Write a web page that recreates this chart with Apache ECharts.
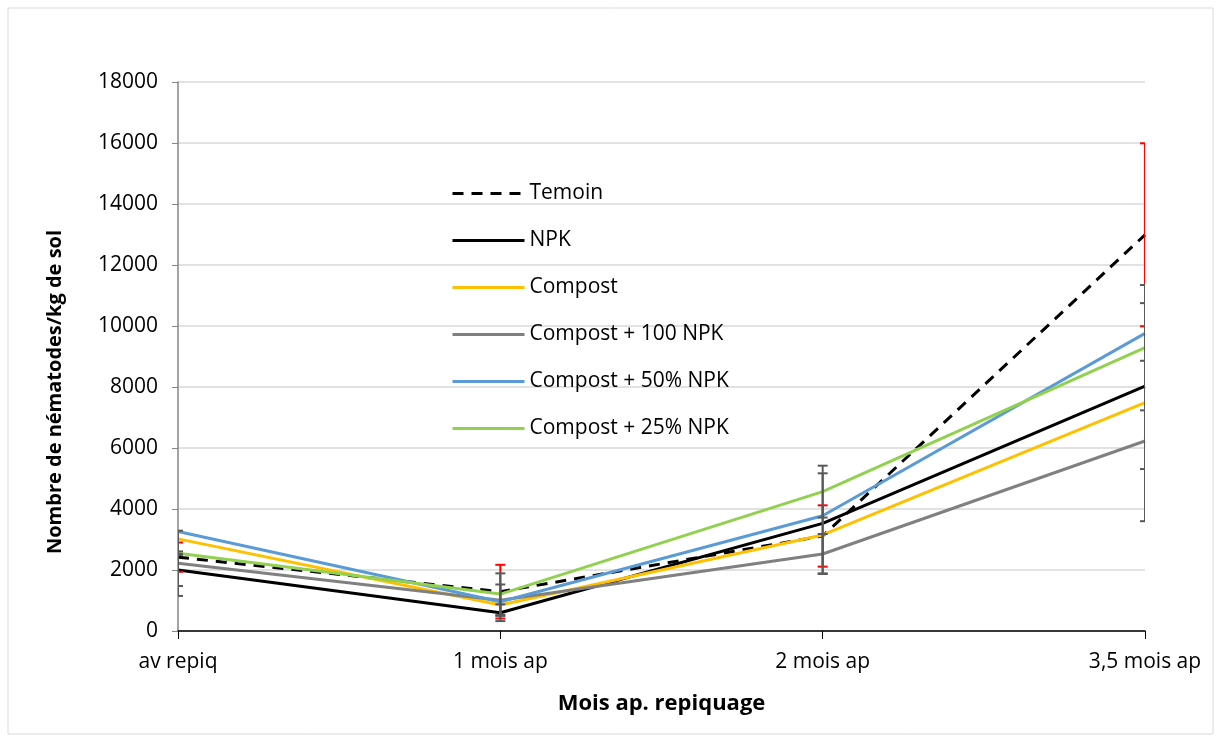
<!DOCTYPE html>
<html>
<head>
<meta charset="utf-8">
<script src="https://cdn.jsdelivr.net/npm/echarts@6/dist/echarts.min.js"></script>
<style>
  html, body { margin: 0; padding: 0; background: #fff; }
  #chart { width: 1221px; height: 742px; }
</style>
</head>
<body>
<div id="chart"></div>
<script>
// catégories et valeurs
const mois = ['av repiq', '1 mois ap', '2 mois ap', '3,5 mois ap'];
const yTicks = [0, 2000, 4000, 6000, 8000, 10000, 12000, 14000, 16000, 18000];

const temoin = [2420, 1290, 3115, 12990];
const npk = [2000, 600, 3530, 8030];
const compost = [3020, 850, 3150, 7490];
const compost100 = [2220, 1010, 2525, 6230];
const compost50 = [3260, 960, 3780, 9760];
const compost25 = [2550, 1210, 4570, 9290];

// barres d'erreur (écart +/-)
const temoinErr = [480, 880, 1005, 3000];
const npkErr = [525, 275, 1640, 2720];
const compost100Err = [1070, 515, 655, 2630];
const compost25Err = [60, 680, 850, 2055];

const font = 'Open Sans';

function lineSerie(name, data, color, dashed) {
  return {
    name: name,
    type: 'line',
    data: data,
    symbol: 'none',
    color: color,
    lineStyle: { color: color, width: 3, type: dashed ? [11, 8] : 'solid' },
    z: 3
  };
}

function errData(vals, errs) {
  return vals.map((v, i) => [i, v - errs[i], v + errs[i]]);
}

function renderErr(params, api) {
  const x = api.value(0);
  const lo = api.coord([x, api.value(1)]);
  const hi = api.coord([x, api.value(2)]);
  const c = api.visual('color');
  const w = 5;
  const st = { stroke: c, lineWidth: 2 };
  return {
    type: 'group',
    children: [
      { type: 'line', shape: { x1: hi[0], y1: hi[1], x2: lo[0], y2: lo[1] }, style: st },
      { type: 'line', shape: { x1: hi[0] - w, y1: hi[1], x2: hi[0] + w, y2: hi[1] }, style: st },
      { type: 'line', shape: { x1: lo[0] - w, y1: lo[1], x2: lo[0] + w, y2: lo[1] }, style: st }
    ]
  };
}

function errSerie(name, vals, errs, color) {
  return {
    name: name,
    type: 'custom',
    data: errData(vals, errs),
    renderItem: renderErr,
    color: color,
    clip: true,
    encode: { x: 0, y: [1, 2] },
    silent: true,
    z: 5
  };
}

const chart = echarts.init(document.getElementById('chart'));
chart.setOption({
  animation: false,
  backgroundColor: '#fff',
  textStyle: { fontFamily: font },
  graphic: [{
    type: 'rect',
    shape: { x: 8, y: 8, width: 1205, height: 726 },
    style: { fill: null, stroke: '#d9d9d9', lineWidth: 1 },
    silent: true
  }, {
    // titre de l'axe Y, décalé vers le bas comme dans Excel
    type: 'text',
    x: 55,
    y: 392,
    rotation: Math.PI / 2,
    style: {
      text: 'Nombre de nématodes/kg de sol',
      fontFamily: font,
      fontSize: 20,
      fontWeight: 'bold',
      fill: '#000',
      align: 'center',
      verticalAlign: 'middle'
    },
    silent: true
  }],
  grid: { left: 178, right: 76, top: 82, bottom: 111 },
  legend: {
    data: ['Temoin', 'NPK', 'Compost', 'Compost + 100 NPK', 'Compost + 50% NPK', 'Compost + 25% NPK'],
    orient: 'vertical',
    left: 446,
    top: 178,
    itemWidth: 72,
    itemHeight: 14,
    itemGap: 26,
    itemStyle: { opacity: 0 },
    lineStyle: { width: 3 },
    textStyle: { fontFamily: font, fontSize: 21, color: '#000', padding: [0, 0, 0, 0] }
  },
  xAxis: {
    type: 'category',
    data: mois,
    boundaryGap: false,
    name: 'Mois ap. repiquage',
    nameLocation: 'middle',
    nameGap: 62,
    nameTextStyle: { fontFamily: font, fontSize: 22, fontWeight: 'bold', color: '#000' },
    axisLine: { lineStyle: { color: '#000', width: 1.5 } },
    axisTick: { show: true, length: 8, lineStyle: { color: '#000' } },
    axisLabel: { fontSize: 21, color: '#000', margin: 21 },
    splitLine: { show: false }
  },
  yAxis: {
    type: 'value',
    min: yTicks[0],
    max: yTicks[yTicks.length - 1],
    interval: yTicks[1] - yTicks[0],
    axisLine: { show: true, lineStyle: { color: '#868686', width: 1.5 } },
    axisTick: { show: true, length: 6, lineStyle: { color: '#868686' } },
    axisLabel: { fontSize: 21, color: '#000', margin: 20, formatter: v => String(v) },
    splitLine: { lineStyle: { color: '#d9d9d9', width: 1.5 } }
  },
  series: [
    lineSerie('Temoin', temoin, '#000000', true),
    lineSerie('NPK', npk, '#000000', false),
    lineSerie('Compost', compost, '#FFC000', false),
    lineSerie('Compost + 100 NPK', compost100, '#808080', false),
    lineSerie('Compost + 50% NPK', compost50, '#5B9BD5', false),
    lineSerie('Compost + 25% NPK', compost25, '#92D050', false),
    errSerie('err temoin', temoin, temoinErr, '#FF0000'),
    errSerie('err npk', npk, npkErr, '#595959'),
    errSerie('err c100', compost100, compost100Err, '#595959'),
    errSerie('err c25', compost25, compost25Err, '#595959')
  ]
});
</script>
</body>
</html>
